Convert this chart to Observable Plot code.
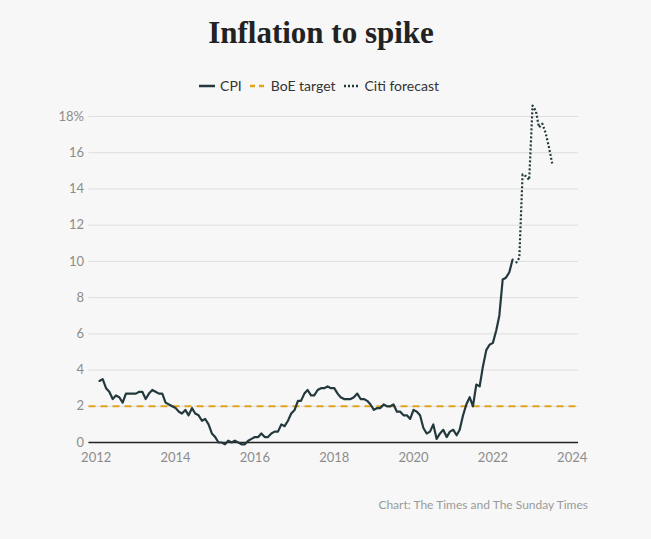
<!DOCTYPE html>
<html>
<head>
<meta charset="utf-8">
<script src="https://cdn.jsdelivr.net/npm/d3@7"></script>
<script src="https://cdn.jsdelivr.net/npm/@observablehq/plot@0.6"></script>
<style>
  html, body { margin: 0; padding: 0; background: #f7f7f7; }
  body { width: 651px; height: 539px; overflow: hidden; font-family: Lato, "Open Sans", sans-serif; }
  #title { width: 642px; text-align: center; padding-top: 17px; line-height: 31px; height: 31px;
           font-family: "Liberation Serif", "DejaVu Serif", serif; font-weight: bold; font-size: 31px; color: #222; }
  #legend { width: 638px; margin-top: 28px; height: 20px; line-height: 20px; display: flex; justify-content: center;
            align-items: center; font-size: 14px; color: #333; gap: 0; }
  #legend .item { display: flex; align-items: center; margin: 0 4px; }
  #legend svg { margin-right: 5px; }
  #chart { height: 376px; }
  #chart svg { display: block; }
  #caption { margin-top: 25px; line-height: 16px; text-align: right; padding-right: 63px; font-size: 12px; color: #9a9a9a; }
</style>
</head>
<body>
<div id="title">Inflation to spike</div>
<div id="legend"></div>
<div id="chart"></div>
<div id="caption">Chart: The Times and The Sunday Times</div>
<script>
// Monthly UK CPI, Feb 2012 – Jul 2022 (% y/y)
const cpiStart = [2012, 1]; // year, month index (Feb)
const cpiValues = [
  3.4, 3.5, 3.0, 2.8, 2.4, 2.6, 2.5, 2.2, 2.7, 2.7, 2.7,
  2.7, 2.8, 2.8, 2.4, 2.7, 2.9, 2.8, 2.7, 2.7, 2.2, 2.1, 2.0,
  1.9, 1.7, 1.6, 1.8, 1.5, 1.9, 1.6, 1.5, 1.2, 1.3, 1.0, 0.5,
  0.3, 0.0, 0.0, -0.1, 0.1, 0.0, 0.1, 0.0, -0.1, -0.1, 0.1, 0.2,
  0.3, 0.3, 0.5, 0.3, 0.3, 0.5, 0.6, 0.6, 1.0, 0.9, 1.2, 1.6,
  1.8, 2.3, 2.3, 2.7, 2.9, 2.6, 2.6, 2.9, 3.0, 3.0, 3.1, 3.0,
  3.0, 2.7, 2.5, 2.4, 2.4, 2.4, 2.5, 2.7, 2.4, 2.4, 2.3, 2.1,
  1.8, 1.9, 1.9, 2.1, 2.0, 2.0, 2.1, 1.7, 1.7, 1.5, 1.5, 1.3,
  1.8, 1.7, 1.5, 0.8, 0.5, 0.6, 1.0, 0.2, 0.5, 0.7, 0.3, 0.6,
  0.7, 0.4, 0.7, 1.5, 2.1, 2.5, 2.0, 3.2, 3.1, 4.2, 5.1, 5.4,
  5.5, 6.2, 7.0, 9.0, 9.1, 9.4, 10.1
];
// Citi forecast, Aug 2022 – Jul 2023
const forecastStart = [2022, 7];
const forecastValues = [9.9, 10.2, 14.8, 14.7, 14.5, 18.6, 18.3, 17.4, 17.6, 17.1, 16.3, 15.4];
const boeTarget = 2;
const yTicks = [0, 2, 4, 6, 8, 10, 12, 14, 16, 18];
const xTickYears = [2012, 2014, 2016, 2018, 2020, 2022, 2024];
const seriesNames = ["CPI", "BoE target", "Citi forecast"];

const colors = { cpi: "#23393d", target: "#dfa51c", grid: "#dedede" };

const toRows = (start, vals) => vals.map((v, i) => ({ date: new Date(Date.UTC(start[0], start[1] + i, 1)), value: v }));
const cpi = toRows(cpiStart, cpiValues);
const forecast = toRows(forecastStart, forecastValues);
const xTicks = xTickYears.map(y => new Date(Date.UTC(y, 0, 1)));

const chart = Plot.plot({
  width: 651,
  height: 376,
  marginLeft: 88.5,
  marginRight: 73,
  marginTop: 20,
  marginBottom: 30,
  style: { fontFamily: "Lato, sans-serif", fontSize: "13px", color: "#8c8c8c", background: "transparent", overflow: "visible" },
  x: { type: "utc", domain: [new Date(Date.UTC(2011, 9, 27)), new Date(Date.UTC(2024, 1, 28))] },
  y: { domain: [0, 18] },
  marks: [
    Plot.gridY(yTicks, { stroke: colors.grid, strokeOpacity: 1, strokeWidth: 1 }),
    Plot.ruleY([boeTarget], { stroke: colors.target, strokeWidth: 2, strokeDasharray: "7,5" }),
    Plot.ruleY([0], { stroke: "#222", strokeWidth: 1.3 }),
    Plot.lineY(cpi, { x: "date", y: "value", stroke: colors.cpi, strokeWidth: 2.2 }),
    Plot.lineY(forecast, { x: "date", y: "value", stroke: colors.cpi, strokeWidth: 2.2, strokeDasharray: "2,2", strokeLinecap: "butt" }),
    Plot.axisY(yTicks, { tickSize: 0, tickPadding: 5, label: null, tickFormat: d => d === 18 ? "18%" : String(d) }),
    Plot.axisX(xTicks, { tickSize: 0, tickPadding: 10, label: null, tickFormat: d => String(d.getUTCFullYear()) })
  ]
});
document.getElementById("chart").appendChild(chart);

// Legend
const legend = d3.select("#legend");
const swatches = [
  { name: seriesNames[0], stroke: colors.cpi, dash: null },
  { name: seriesNames[1], stroke: colors.target, dash: "5,4" },
  { name: seriesNames[2], stroke: colors.cpi, dash: "2,2" }
];
swatches.forEach(s => {
  const item = legend.append("div").attr("class", "item");
  const sv = item.append("svg").attr("width", 16).attr("height", 10);
  sv.append("line").attr("x1", 0).attr("x2", 16).attr("y1", 5).attr("y2", 5)
    .attr("stroke", s.stroke).attr("stroke-width", 2.5).attr("stroke-dasharray", s.dash);
  item.append("span").text(s.name);
});
</script>
</body>
</html>
